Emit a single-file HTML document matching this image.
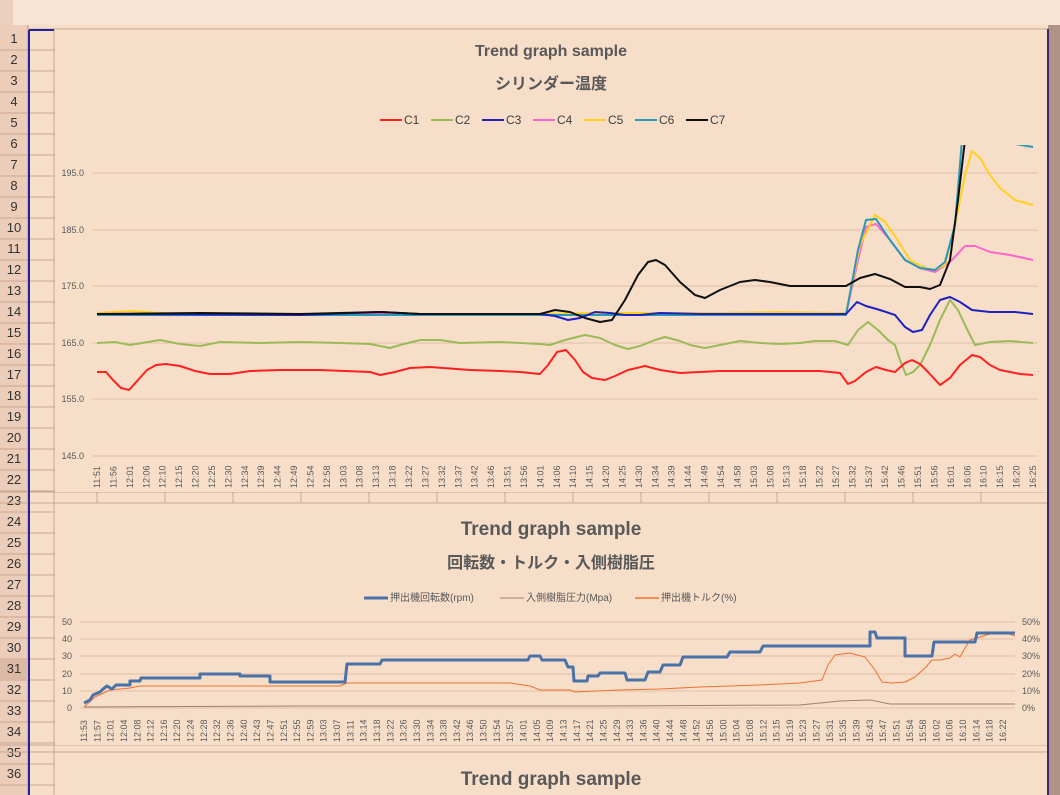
<!DOCTYPE html>
<html><head><meta charset="utf-8"><style>
body{margin:0;width:1060px;height:795px;overflow:hidden;background:#f6dec9;font-family:"Liberation Sans","Noto Sans CJK JP",sans-serif}
svg{display:block}
text{font-family:"Liberation Sans","Noto Sans CJK JP",sans-serif}
</style></head><body>
<svg width="1060" height="795" viewBox="0 0 1060 795" xmlns="http://www.w3.org/2000/svg">
<rect x="0" y="0" width="1060" height="795" fill="#f6dec9"/>
<!-- top bar -->
<rect x="0" y="0" width="1060" height="25" fill="#f8e4d4"/>
<rect x="0" y="0" width="13" height="25" fill="#ecd0bd"/>
<line x1="0" y1="29" x2="1048" y2="29" stroke="#c9a592"/>
<!-- row headers -->
<rect x="0" y="25" width="28" height="770" fill="#ebcdb9"/>
<line x1="28" y1="25" x2="28" y2="795" stroke="#b8968a"/>
<g font-size="13" fill="#333" text-anchor="middle">
<text x="14" y="43">1</text><text x="14" y="64">2</text><text x="14" y="85">3</text><text x="14" y="106">4</text><text x="14" y="127">5</text><text x="14" y="148">6</text><text x="14" y="169">7</text><text x="14" y="190">8</text><text x="14" y="211">9</text><text x="14" y="232">10</text><text x="14" y="253">11</text><text x="14" y="274">12</text><text x="14" y="295">13</text><text x="14" y="316">14</text><text x="14" y="337">15</text><text x="14" y="358">16</text><text x="14" y="379">17</text><text x="14" y="400">18</text><text x="14" y="421">19</text><text x="14" y="442">20</text><text x="14" y="463">21</text><text x="14" y="484">22</text><text x="14" y="505">23</text><text x="14" y="526">24</text><text x="14" y="547">25</text><text x="14" y="568">26</text><text x="14" y="589">27</text><text x="14" y="610">28</text><text x="14" y="631">29</text><text x="14" y="652">30</text><text x="14" y="673">31</text><text x="14" y="694">32</text><text x="14" y="715">33</text><text x="14" y="736">34</text><text x="14" y="757">35</text><text x="14" y="778">36</text>
</g>
<g stroke="#c9a592">
<path d="M0 50H55M0 71H55M0 92H55M0 113H55M0 134H55M0 155H55M0 176H55M0 197H55M0 218H55M0 239H55M0 260H55M0 281H55M0 302H55M0 323H55M0 344H55M0 365H55M0 386H55M0 407H55M0 428H55M0 449H55M0 470H55M0 491H55M0 512H55M0 533H55M0 554H55M0 575H55M0 596H55M0 617H55M0 638H55M0 659H55M0 680H55M0 701H55M0 722H55M0 743H55M0 764H55M0 785H55"/>
<path d="M54 29V795"/>
<path d="M0 492H1048M0 503H1048M97 492V503M165 492V503M233 492V503M301 492V503M369 492V503M437 492V503M505 492V503M573 492V503M641 492V503M709 492V503M777 492V503M845 492V503M913 492V503M981 492V503"/>
<path d="M0 745H1048M0 752H1048"/>
</g>
<line x1="29" y1="30" x2="29" y2="795" stroke="#2020a0" stroke-width="2"/>
<line x1="29" y1="30" x2="54" y2="30" stroke="#2020a0" stroke-width="2"/>
<rect x="0" y="659" width="28" height="21" fill="#dbb9a5"/>
<text x="14" y="673" font-size="13" fill="#333" text-anchor="middle">31</text>
<!-- right strip -->
<rect x="1048" y="25" width="12" height="770" fill="#b09488"/>
<line x1="1048" y1="29" x2="1048" y2="795" stroke="#3a2a70" stroke-width="2"/>

<!-- chart 1 -->
<rect x="55" y="30" width="992" height="462" fill="#f6dec9"/>
<text x="551" y="56" font-size="16" font-weight="bold" fill="#595959" text-anchor="middle">Trend graph sample</text>
<text x="551" y="89" font-size="16" font-weight="bold" fill="#595959" text-anchor="middle">シリンダー温度</text>
<g font-size="12" fill="#404040">
<line x1="380" y1="120" x2="402" y2="120" stroke="#ff2020" stroke-width="2"/><text x="404" y="124">C1</text>
<line x1="431" y1="120" x2="453" y2="120" stroke="#9bbb59" stroke-width="2"/><text x="455" y="124">C2</text>
<line x1="482" y1="120" x2="504" y2="120" stroke="#2020c0" stroke-width="2"/><text x="506" y="124">C3</text>
<line x1="533" y1="120" x2="555" y2="120" stroke="#ff66cc" stroke-width="2"/><text x="557" y="124">C4</text>
<line x1="584" y1="120" x2="606" y2="120" stroke="#ffd020" stroke-width="2"/><text x="608" y="124">C5</text>
<line x1="635" y1="120" x2="657" y2="120" stroke="#2898b8" stroke-width="2"/><text x="659" y="124">C6</text>
<line x1="686" y1="120" x2="708" y2="120" stroke="#101010" stroke-width="2"/><text x="710" y="124">C7</text>
</g>
<g stroke="#e2bfa9" stroke-width="1">
<path d="M92 173H1038M92 230H1038M92 286H1038M92 343H1038M92 399H1038M92 456H1038"/>
</g>
<g font-size="9" fill="#595959" text-anchor="end">
<text x="84" y="176">195.0</text><text x="84" y="233">185.0</text><text x="84" y="289">175.0</text><text x="84" y="346">165.0</text><text x="84" y="402">155.0</text><text x="84" y="459">145.0</text>
</g>
<g font-size="9" fill="#595959" id="xl1"></g>
<defs><clipPath id="c1"><rect x="92" y="145" width="950" height="315"/></clipPath></defs>
<g clip-path="url(#c1)" fill="none" stroke-width="2" stroke-linejoin="round">
<polyline stroke="#9bbb59" points="97,343 115,342 130,345 160,340 180,344 200,346 220,342 260,343 300,342 340,343 370,344 380,346 390,348 400,345 420,340 440,340 460,343 500,342 540,344 550,345 565,340 585,335 600,338 615,345 628,349 640,346 655,340 665,337 680,341 690,345 705,348 720,345 740,341 760,343 780,344 800,343 815,341 835,341 848,345 858,330 868,322 878,330 888,340 895,345 900,360 906,375 913,372 920,365 930,345 940,320 950,300 958,310 965,325 975,345 990,342 1010,341 1033,343"/>
<polyline stroke="#ff2020" points="97,372 106,372 113,380 121,388 129,390 138,380 147,370 156,365 166,364 180,366 195,371 210,374 230,374 250,371 280,370 320,370 370,372 380,375 395,372 410,368 430,367 470,370 500,371 520,372 540,374 548,365 557,352 566,350 575,360 583,372 592,378 605,380 615,376 628,370 645,366 660,370 680,373 700,372 720,371 760,371 800,371 820,371 840,373 848,384 855,381 866,372 876,367 886,370 895,372 905,363 912,360 920,364 928,372 940,385 950,378 960,365 972,355 980,357 990,365 1000,370 1020,374 1033,375"/>
<polyline stroke="#ff66cc" points="97,314 846,314 858,260 866,227 876,224 890,240 905,260 920,268 935,272 950,262 965,246 975,246 990,252 1010,255 1033,260"/>
<polyline stroke="#ffd020" points="97,313 130,311 160,313 200,315 300,315 420,315 540,314 600,313 660,313 720,313 780,312 846,313 860,245 875,215 885,222 895,236 910,260 925,268 935,270 945,265 955,225 965,175 972,151 980,158 990,175 1000,188 1015,200 1033,205"/>
<polyline stroke="#2898b8" points="97,315 846,315 858,250 866,220 876,219 890,240 905,260 920,268 935,270 945,262 955,225 962,140"/>
<polyline stroke="#2898b8" points="1015,144 1033,147"/>
<polyline stroke="#2020c0" points="97,314 300,315 380,312 420,314 540,314 555,316 568,320 580,318 595,312 610,313 625,315 640,315 660,313 700,314 740,314 780,314 820,314 846,314 857,302 866,306 880,310 895,315 905,327 913,332 922,330 930,315 940,300 950,297 960,302 972,310 990,312 1015,312 1033,314"/>
<polyline stroke="#101010" points="97,314 200,313 300,314 380,312 420,314 540,314 555,310 570,312 585,318 600,322 612,320 625,300 638,275 648,262 656,260 665,265 680,282 695,295 705,298 720,290 740,282 755,280 770,282 790,286 830,286 846,286 860,278 875,274 890,279 905,287 920,287 930,289 940,285 950,260 958,200 965,140"/>
</g>

<!-- chart 2 -->
<rect x="55" y="505" width="992" height="240" fill="#f6dec9"/>
<text x="551" y="535" font-size="19" font-weight="bold" fill="#595959" text-anchor="middle">Trend graph sample</text>
<text x="551" y="568" font-size="16" font-weight="bold" fill="#595959" text-anchor="middle">回転数・トルク・入側樹脂圧</text>
<g font-size="10" fill="#595959">
<line x1="364" y1="598" x2="388" y2="598" stroke="#4a72a8" stroke-width="3"/><text x="390" y="601">押出機回転数(rpm)</text>
<line x1="500" y1="598" x2="524" y2="598" stroke="#a08070" stroke-width="1"/><text x="526" y="601">入側樹脂圧力(Mpa)</text>
<line x1="635" y1="598" x2="659" y2="598" stroke="#ee7030" stroke-width="1.5"/><text x="661" y="601">押出機トルク(%)</text>
</g>
<g stroke="#e2bfa9"><path d="M80 622H1015M80 639H1015M80 656H1015M80 674H1015M80 691H1015M80 708H1015"/></g>
<g font-size="9" fill="#595959" text-anchor="end">
<text x="72" y="625">50</text><text x="72" y="642">40</text><text x="72" y="659">30</text><text x="72" y="677">20</text><text x="72" y="694">10</text><text x="72" y="711">0</text>
</g>
<g font-size="9" fill="#595959">
<text x="1022" y="625">50%</text><text x="1022" y="642">40%</text><text x="1022" y="659">30%</text><text x="1022" y="677">20%</text><text x="1022" y="694">10%</text><text x="1022" y="711">0%</text>
</g>
<g font-size="9" fill="#595959" id="xl2"></g>
<g fill="none" stroke-linejoin="round">
<polyline stroke="#a08070" stroke-width="1" points="84,707 300,706 600,706 800,705 840,701 870,700 890,704 960,704 1015,704"/>
<polyline stroke="#ee7030" stroke-width="1" points="84,707 95,697 110,690 130,688 140,686 200,686 260,686 340,686 347,683 510,683 530,686 540,690 570,690 575,692 620,690 660,689 700,687 760,685 800,683 822,680 828,665 835,655 850,653 865,657 875,670 882,682 892,683 905,682 915,677 925,668 932,660 940,660 950,658 955,654 960,657 965,648 970,640 980,637 990,634 1003,632 1015,636"/>
<polyline stroke="#4a72a8" stroke-width="3" points="84,703 90,700 93,695 100,692 103,689 107,686 112,689 116,685 130,685 130,681 140,681 141,678 200,678 200,674 240,674 240,676 270,676 270,682 345,682 347,664 380,664 382,660 528,660 530,656 540,656 542,660 565,660 568,667 573,667 574,681 587,681 588,676 598,676 600,673 625,673 627,680 645,680 648,672 660,672 663,665 680,665 683,657 727,657 730,652 760,652 763,646 870,646 870,632 875,632 877,638 905,638 905,656 932,656 934,642 975,642 977,633 1015,633"/>
</g>

<!-- chart 3 -->
<rect x="55" y="753" width="992" height="42" fill="#f6dec9"/>
<text x="551" y="785" font-size="19" font-weight="bold" fill="#595959" text-anchor="middle">Trend graph sample</text>
</svg>
<script>
(function(){
var ns="http://www.w3.org/2000/svg";
var l1=[];var t=11*60+51;
var a=["11:51","11:56","12:01","12:06","12:10","12:15","12:20","12:25","12:30","12:34","12:39","12:44","12:49","12:54","12:58","13:03","13:08","13:13","13:18","13:22","13:27","13:32","13:37","13:42","13:46","13:51","13:56","14:01","14:06","14:10","14:15","14:20","14:25","14:30","14:34","14:39","14:44","14:49","14:54","14:58","15:03","15:08","15:13","15:18","15:22","15:27","15:32","15:37","15:42","15:46","15:51","15:56","16:01","16:06","16:10","16:15","16:20","16:25"];
var g=document.getElementById("xl1");
for(var i=0;i<a.length;i++){var x=97+i*(936/(a.length-1));var e=document.createElementNS(ns,"text");e.setAttribute("transform","translate("+(x+3)+",488) rotate(-90)");e.textContent=a[i];g.appendChild(e);}
var b=[];var m=11*60+53;
var s="11:53,11:57,12:01,12:04,12:08,12:12,12:16,12:20,12:24,12:28,12:32,12:36,12:40,12:43,12:47,12:51,12:55,12:59,13:03,13:07,13:11,13:14,13:18,13:22,13:26,13:30,13:34,13:38,13:42,13:46,13:50,13:54,13:57,14:01,14:05,14:09,14:13,14:17,14:21,14:25,14:29,14:33,14:36,14:40,14:44,14:48,14:52,14:56,15:00,15:04,15:08,15:12,15:15,15:19,15:23,15:27,15:31,15:35,15:39,15:43,15:47,15:51,15:54,15:58,16:02,16:06,16:10,16:14,16:18,16:22".split(",");
var g2=document.getElementById("xl2");
for(var j=0;j<s.length;j++){var x2=84+j*(919/(s.length-1));var f=document.createElementNS(ns,"text");f.setAttribute("transform","translate("+(x2+3)+",742) rotate(-90)");f.textContent=s[j];g2.appendChild(f);}
})();
</script>
</body></html>
